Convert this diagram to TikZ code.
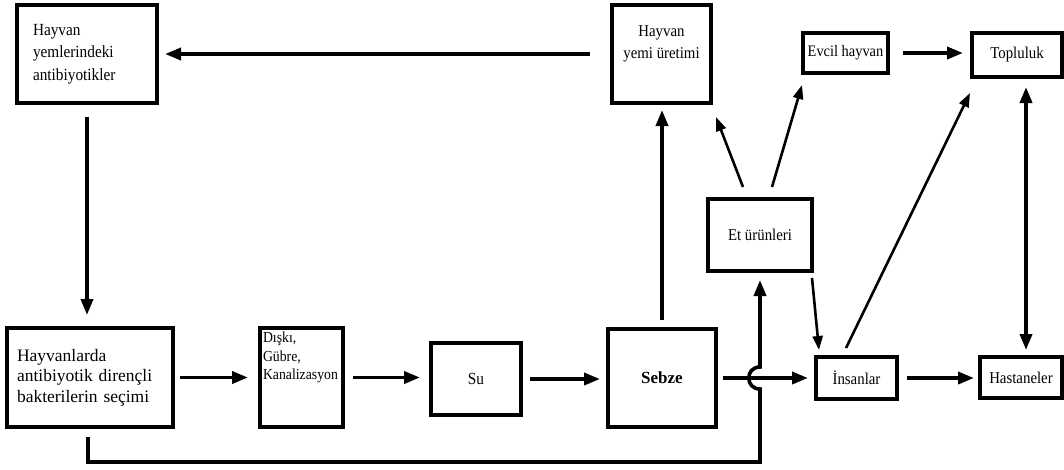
\documentclass[tikz,border=0pt]{standalone}
\usepackage{fontspec}
\setmainfont{Liberation Serif}
\newfontfamily\cond{Liberation Serif}[FakeStretch=0.9]
\usetikzlibrary{arrows.meta}
\begin{document}
\begin{tikzpicture}[x=1pt,y=-1pt,
  box/.style={draw=black, line width=3.6pt, fill=white, inner sep=0pt, outer sep=0pt, align=center},
  txt/.style={inner sep=0pt, outer sep=0pt},
  arr/.style={line width=3.6pt, -{Triangle[length=16pt,width=12pt]}},
  darr/.style={line width=3.6pt, {Triangle[length=16pt,width=12pt]}-{Triangle[length=16pt,width=12pt]}},
  tarr/.style={line width=2.6pt, -{Triangle[length=14pt,width=10pt]}},
  sm/.style={font=\cond\fontsize{16.5}{19}\selectfont}
]
\useasboundingbox (0,0) rectangle (1064,469);

% boxes
\node[box, minimum width=140pt, minimum height=98pt, text width=108pt, align=left,
      font=\cond\fontsize{17}{22.5}\selectfont] (ha) at (87,54)
  {Hayvan\\yemlerindeki\\antibiyotikler};
\node[box, minimum width=99pt, minimum height=98pt] (hy) at (661.5,54) {};
\node[txt, anchor=north, align=center, font=\cond\fontsize{16.5}{22}\selectfont] (hyt) at (661.5,26) {Hayvan\\yemi üretimi};
\node[box, minimum width=85pt, minimum height=40pt, font=\cond\fontsize{16}{18}\selectfont] (ev) at (845.5,53) {Evcil hayvan};
\node[box, minimum width=90pt, minimum height=44pt, sm] (tp) at (1017,55) {Topluluk};
\node[box, minimum width=104pt, minimum height=72pt, sm] (et) at (760,235) {Et ürünleri};
\node[box, minimum width=166pt, minimum height=99pt, text width=146pt, align=left,
      font=\fontsize{17.5}{20.5}\selectfont] (hd) at (90,377.5)
  {Hayvanlarda\\antibiyotik dirençli\\bakterilerin seçimi};
\node[box, minimum width=83pt, minimum height=99pt] (dk) at (301.5,377.5) {};
\node[txt, anchor=north west, align=left, font=\cond\fontsize{15.3}{18.5}\selectfont] (dkt) at (263,332)
  {Dışkı,\\Gübre,\\Kanalizasyon};
\node[box, minimum width=90pt, minimum height=72pt, font=\cond\fontsize{17}{18}\selectfont] (su) at (476,379) {Su};
\node[box, minimum width=108pt, minimum height=98pt, font=\bfseries\fontsize{17}{18}\selectfont] (sb) at (662,378) {Sebze};
\node[box, minimum width=81pt, minimum height=42pt, sm] (in) at (856.5,378) {İnsanlar};
\node[box, minimum width=82pt, minimum height=41pt, sm] (hs) at (1021,377.5) {Hastaneler};

% connectors
\draw[arr, shorten <=22pt, shorten >=8pt] (hy.west) -- (ha.east);
\draw[arr, shorten <=14pt, shorten >=13pt] (ha.south) -- (ha.south |- hd.north);
\draw[arr, shorten <=7pt, shorten >=12pt] (hd.east) -- (hd.east -| dk.west);
\draw[arr, shorten <=10pt, shorten >=11pt] (dk.east) -- (dk.east -| su.west);
\draw[arr, shorten <=9pt, shorten >=8pt] (su.east) -- (su.east -| sb.west);
\draw[arr, shorten <=7pt, shorten >=8pt] (sb.east) -- (sb.east -| in.west);
\coordinate (hop) at (et.south |- sb.east);
\draw[arr, shorten >=9pt] ([xshift=-2pt,yshift=-10pt]hd.south)
  |- ([yshift=-84pt]hop) -- ([yshift=-11pt]hop)
  .. controls ([xshift=-15pt,yshift=-11pt]hop) and ([xshift=-15pt,yshift=11pt]hop) .. ([yshift=11pt]hop)
  -- (et.south);
\draw[arr, shorten <=9pt, shorten >=7pt] (sb.north) -- (sb.north |- hy.south);
\draw[tarr] ([xshift=-17pt,yshift=12pt]et.north) -- ([xshift=5pt,yshift=-14pt]hy.south east);
\draw[tarr] ([xshift=12pt,yshift=12pt]et.north) -- ([xshift=-1pt,yshift=-12pt]ev.south west);
\draw[arr, shorten <=15pt, shorten >=9pt] (ev.east) -- (ev.east -| tp.west);
\draw[tarr] ([xshift=-10.5pt,yshift=9pt]in.north) -- ([xshift=-2pt,yshift=-16pt]tp.south west);
\draw[tarr] ([yshift=-7pt]et.south east) -- ([xshift=3pt,yshift=7pt]in.north west);
\draw[arr, shorten <=10pt, shorten >=6pt] (in.east) -- (in.east -| hs.west);
\draw[darr, shorten <=10pt, shorten >=7pt] ([xshift=9pt]tp.south) -- ([xshift=9pt]tp.south |- hs.north);
\end{tikzpicture}
\end{document}
